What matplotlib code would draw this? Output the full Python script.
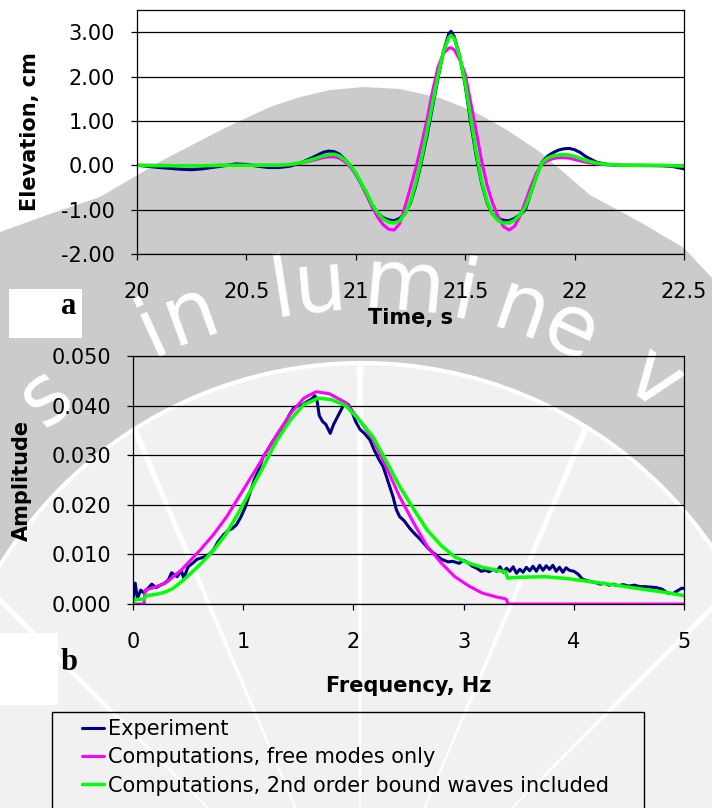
import numpy as np
import matplotlib
matplotlib.use("Agg")
import matplotlib.pyplot as plt
from matplotlib.patches import Polygon, Circle, Wedge, Rectangle
from matplotlib.ticker import FormatStrFormatter

plt.rcParams['font.family'] = ['DejaVu Sans']
plt.rcParams['axes.unicode_minus'] = False

# (a) surface elevation at the gauge, cm
time_s = [20.0, 20.1, 20.2, 20.25, 20.3, 20.4, 20.45, 20.5, 20.55, 20.6,
          20.65, 20.7, 20.75, 20.8, 20.85, 20.875, 20.9, 20.925, 20.95, 20.975,
          21.0, 21.025, 21.05, 21.075, 21.1, 21.125, 21.15, 21.175, 21.2, 21.225,
          21.25, 21.275, 21.3, 21.325, 21.35, 21.375, 21.4, 21.425, 21.435, 21.45,
          21.475, 21.5, 21.525, 21.55, 21.575, 21.6, 21.625, 21.65, 21.675, 21.7,
          21.725, 21.75, 21.775, 21.8, 21.825, 21.85, 21.875, 21.9, 21.925, 21.95,
          21.975, 22.0, 22.025, 22.05, 22.1, 22.15, 22.2, 22.3, 22.4, 22.45,
          22.5]
elev_exp = [0.00, -0.05, -0.09, -0.10, -0.08, -0.01, 0.03, 0.02, -0.02, -0.05,
            -0.05, -0.02, 0.06, 0.17, 0.29, 0.32, 0.31, 0.25, 0.13, 0.00,
            -0.20, -0.42, -0.66, -0.93, -1.08, -1.18, -1.23, -1.25, -1.20, -1.08,
            -0.85, -0.45, 0.08, 0.65, 1.30, 1.95, 2.55, 2.97, 3.02, 2.90,
            2.45, 1.80, 0.97, 0.22, -0.40, -0.85, -1.10, -1.20, -1.24, -1.25,
            -1.20, -1.12, -1.00, -0.62, -0.26, 0.06, 0.20, 0.28, 0.34, 0.37,
            0.38, 0.35, 0.29, 0.20, 0.07, 0.02, 0.00, 0.00, -0.01, -0.03,
            -0.08]
elev_free = [0.00, 0.00, -0.01, -0.01, -0.01, 0.00, 0.00, 0.00, 0.00, 0.00,
             0.00, 0.01, 0.05, 0.11, 0.17, 0.19, 0.19, 0.16, 0.08, -0.04,
             -0.20, -0.42, -0.68, -0.94, -1.17, -1.34, -1.44, -1.46, -1.32, -0.93,
             -0.50, -0.05, 0.47, 1.02, 1.65, 2.20, 2.52, 2.64, 2.65, 2.60,
             2.38, 2.06, 1.42, 0.78, 0.10, -0.45, -0.85, -1.15, -1.38, -1.46,
             -1.38, -1.15, -0.82, -0.48, -0.18, 0.02, 0.10, 0.15, 0.17, 0.17,
             0.16, 0.13, 0.10, 0.07, 0.03, 0.01, 0.00, -0.01, -0.01, -0.01,
             -0.01]
elev_bound = [0.00, -0.01, -0.01, -0.01, -0.01, 0.00, 0.00, 0.00, 0.00, 0.00,
              0.00, 0.02, 0.06, 0.13, 0.21, 0.24, 0.25, 0.21, 0.12, 0.00,
              -0.17, -0.40, -0.62, -0.88, -1.07, -1.21, -1.28, -1.30, -1.25, -1.10,
              -0.82, -0.38, 0.15, 0.75, 1.38, 2.00, 2.55, 2.88, 2.93, 2.86,
              2.45, 1.85, 1.08, 0.30, -0.35, -0.82, -1.10, -1.25, -1.30, -1.30,
              -1.24, -1.12, -0.94, -0.62, -0.26, 0.05, 0.16, 0.21, 0.23, 0.24,
              0.23, 0.20, 0.16, 0.11, 0.05, 0.02, 0.00, 0.00, 0.00, -0.01,
              -0.02]

# (b) amplitude spectra
freq_exp = [0.0, 0.02, 0.04, 0.07, 0.1, 0.13, 0.17, 0.21, 0.25, 0.28,
            0.32, 0.35, 0.38, 0.4, 0.44, 0.46, 0.5, 0.54, 0.58, 0.62,
            0.65, 0.69, 0.73, 0.77, 0.82, 0.86, 0.9, 0.94, 0.98, 1.02,
            1.06, 1.1, 1.14, 1.18, 1.22, 1.26, 1.3, 1.34, 1.38, 1.42,
            1.46, 1.5, 1.54, 1.58, 1.62, 1.65, 1.67, 1.69, 1.72, 1.75,
            1.79, 1.82, 1.85, 1.88, 1.92, 1.95, 1.98, 2.02, 2.06, 2.1,
            2.15, 2.19, 2.23, 2.27, 2.31, 2.36, 2.39, 2.42, 2.46, 2.51,
            2.55, 2.6, 2.64, 2.68, 2.72, 2.75, 2.8, 2.86, 2.9, 2.96,
            3.0, 3.04, 3.08, 3.12, 3.16, 3.2, 3.23, 3.27, 3.3, 3.33,
            3.36, 3.39, 3.42, 3.45, 3.48, 3.51, 3.54, 3.57, 3.6, 3.63,
            3.66, 3.69, 3.72, 3.75, 3.78, 3.81, 3.84, 3.87, 3.9, 3.93,
            3.96, 4.0, 4.04, 4.08, 4.12, 4.16, 4.2, 4.24, 4.28, 4.32,
            4.36, 4.4, 4.45, 4.5, 4.55, 4.6, 4.65, 4.7, 4.75, 4.8,
            4.85, 4.9, 4.95, 4.98, 5.0]
amp_exp = [0.0010, 0.0042, 0.0011, 0.0028, 0.0022, 0.0030, 0.0040, 0.0033, 0.0038, 0.0041,
           0.0048, 0.0063, 0.0058, 0.0055, 0.0067, 0.0052, 0.0075, 0.0082, 0.0090, 0.0093,
           0.0095, 0.0100, 0.0109, 0.0125, 0.0139, 0.0148, 0.0152, 0.0160, 0.0176, 0.0196,
           0.0223, 0.0250, 0.0270, 0.0296, 0.0310, 0.0325, 0.0337, 0.0350, 0.0365, 0.0382,
           0.0396, 0.0400, 0.0402, 0.0408, 0.0413, 0.0420, 0.0410, 0.0380, 0.0368, 0.0362,
           0.0344, 0.0362, 0.0375, 0.0388, 0.0405, 0.0403, 0.0392, 0.0368, 0.0352, 0.0344,
           0.0331, 0.0310, 0.0292, 0.0277, 0.0250, 0.0216, 0.0190, 0.0176, 0.0168, 0.0153,
           0.0143, 0.0132, 0.0122, 0.0112, 0.0104, 0.0099, 0.0090, 0.0085, 0.0086, 0.0082,
           0.0088, 0.0083, 0.0076, 0.0072, 0.0066, 0.0068, 0.0065, 0.0070, 0.0066, 0.0075,
           0.0064, 0.0072, 0.0066, 0.0075, 0.0062, 0.0070, 0.0064, 0.0074, 0.0067, 0.0076,
           0.0066, 0.0078, 0.0068, 0.0077, 0.0070, 0.0078, 0.0066, 0.0074, 0.0064, 0.0073,
           0.0068, 0.0066, 0.0060, 0.0050, 0.0047, 0.0045, 0.0043, 0.0040, 0.0042, 0.0038,
           0.0040, 0.0037, 0.0039, 0.0036, 0.0038, 0.0035, 0.0035, 0.0034, 0.0033, 0.0030,
           0.0022, 0.0021, 0.0028, 0.0032, 0.0031]
freq_free = [0.0, 0.1, 0.11, 0.2, 0.3, 0.44, 0.61, 0.73, 0.85, 1.0,
             1.15, 1.3, 1.43, 1.55, 1.66, 1.78, 1.93, 2.05, 2.18, 2.3,
             2.42, 2.55, 2.67, 2.8, 2.92, 3.05, 3.17, 3.3, 3.37, 3.39,
             3.4, 5.0]
amp_free = [0.0, 0.0, 0.0028, 0.0034, 0.0043, 0.0069, 0.0109, 0.0140, 0.0176, 0.0230,
            0.0284, 0.0340, 0.0384, 0.0415, 0.0428, 0.0424, 0.0406, 0.0372, 0.0331, 0.0275,
            0.0216, 0.0162, 0.0116, 0.0082, 0.0055, 0.0036, 0.0022, 0.0014, 0.0011, 0.0009,
            0.0, 0.0]
freq_bound = [0.0, 0.01, 0.1, 0.12, 0.2, 0.28, 0.36, 0.44, 0.53, 0.62,
              0.73, 0.84, 0.94, 1.05, 1.19, 1.3, 1.43, 1.55, 1.68, 1.8,
              1.93, 2.05, 2.18, 2.3, 2.42, 2.55, 2.67, 2.8, 2.92, 3.05,
              3.17, 3.3, 3.38, 3.4, 3.5, 3.74, 3.95, 4.15, 4.35, 4.56,
              4.78, 5.0]
amp_bound = [0.0, 0.0009, 0.0010, 0.0017, 0.0019, 0.0023, 0.0031, 0.0045, 0.0063, 0.0082,
             0.0108, 0.0140, 0.0177, 0.0222, 0.0280, 0.0328, 0.0372, 0.0402, 0.0415, 0.0412,
             0.0400, 0.0372, 0.0336, 0.0287, 0.0237, 0.0190, 0.0149, 0.0117, 0.0095, 0.0082,
             0.0074, 0.0068, 0.0065, 0.0052, 0.0054, 0.0055, 0.0051, 0.0045, 0.0039, 0.0032,
             0.0025, 0.0017]

time_ticks = [20, 20.5, 21, 21.5, 22, 22.5]
time_ticklabels = ['20', '20.5', '21', '21.5', '22', '22.5']
elev_ticks = [-2, -1, 0, 1, 2, 3]
freq_ticks = [0, 1, 2, 3, 4, 5]
amp_ticks = [0.0, 0.01, 0.02, 0.03, 0.04, 0.05]

series_labels = ['Experiment', 'Computations, free modes only',
                 'Computations, 2nd order bound waves included']
series_colors = ['#000080', '#ff00ff', '#00ff00']
series_widths = [2.2, 2.2, 2.5]

W, H = 712, 808
fig = plt.figure(figsize=(W / 100, H / 100), dpi=100)

# background layer in pixel units (y down)
bg = fig.add_axes([0, 0, 1, 1], zorder=0)
bg.set_xlim(0, W)
bg.set_ylim(H, 0)
bg.axis('off')

# faint logo behind the charts
dome = [(0, 232), (50, 214), (100, 197), (163, 160), (227, 127), (270, 107),
        (300, 97), (330, 90), (364, 87), (400, 89), (440, 98), (475, 112),
        (507, 130), (540, 152), (590, 195), (640, 222), (684, 248), (712, 278)]
bg.add_patch(Polygon(dome + [(712, 808), (0, 808)], closed=True,
                     fc='#cbcbcb', ec='none', zorder=0))
inner = Circle((362, 788), 425, fc='#f1f1f1', ec='white', lw=3, zorder=1)
bg.add_patch(inner)
for a in (-68, -45, -23, 0, 23, 45, 68):
    ray = Wedge((360, 960), 800, 270 + a - 0.3, 270 + a + 0.3,
                fc='white', ec='none', zorder=2)
    bg.add_patch(ray)
    ray.set_clip_path(inner)
motto = [('s', -39.0), ('i', -24.6), ('n', -19.8), ('l', -9.0),
         ('u', -4.6), ('m', 5.0), ('i', 12.1), ('n', 18.8), ('e', 24.8),
         ('v', 36.0)]
for ch, a in motto:
    th = np.radians(a)
    bg.text(360 + 476 * np.sin(th), 785 - 476 * np.cos(th), ch,
            rotation=-a, rotation_mode='anchor', ha='center', va='baseline',
            fontsize=60, color='white', zorder=3)

# panel tags
bg.add_patch(Rectangle((9, 289), 73, 49, fc='white', ec='none', zorder=4))
bg.add_patch(Rectangle((0, 633), 58, 72, fc='white', ec='none', zorder=4))
bg.text(69, 307, 'a', ha='center', va='center', fontsize=22,
        family='Liberation Serif', weight='bold', zorder=5)
bg.text(69, 663, 'b', ha='center', va='center', fontsize=22,
        family='Liberation Serif', weight='bold', zorder=5)


def style_axes(ax):
    ax.set_facecolor('none')
    ax.grid(axis='y', color='black', lw=0.9)
    ax.set_axisbelow(True)
    for sp in ax.spines.values():
        sp.set_color('black')
        sp.set_linewidth(0.9)
    ax.tick_params(direction='out', length=4.3, width=0.9, labelsize=15,
                   colors='black')
    ax.tick_params(axis='x', pad=15.5)
    ax.tick_params(axis='y', pad=11.5)


# (a) time series
ax1 = fig.add_axes([137 / W, 1 - 254 / H, 547 / W, 244 / H], zorder=1)
style_axes(ax1)
for y, c, lw in zip([elev_exp, elev_free, elev_bound], series_colors, series_widths):
    ax1.plot(time_s, y, color=c, lw=lw, solid_capstyle='round')
ax1.set_xlim(20, 22.5)
ax1.set_ylim(-2, 3.5)
ax1.set_xticks(time_ticks)
ax1.set_xticklabels(time_ticklabels)
ax1.set_yticks(elev_ticks)
ax1.yaxis.set_major_formatter(FormatStrFormatter('%.2f'))
ax1.set_xlabel('Time, s', fontsize=15, weight='bold', va='center')
ax1.xaxis.set_label_coords(0.5, -0.262)
ax1.set_ylabel('Elevation, cm', fontsize=15, weight='bold', va='center')
ax1.yaxis.set_label_coords(-0.1956, 0.5)

# (b) spectra
ax2 = fig.add_axes([133 / W, 1 - 604 / H, 551 / W, 248 / H], zorder=1)
style_axes(ax2)
lines = []
for f, y, c, lw in zip([freq_exp, freq_free, freq_bound],
                       [amp_exp, amp_free, amp_bound], series_colors, series_widths):
    ln, = ax2.plot(f, y, color=c, lw=lw, solid_capstyle='round')
    lines.append(ln)
ax2.set_xlim(0, 5)
ax2.set_ylim(0, 0.05)
ax2.set_xticks(freq_ticks)
ax2.set_yticks(amp_ticks)
ax2.yaxis.set_major_formatter(FormatStrFormatter('%.3f'))
ax2.set_xlabel('Frequency, Hz', fontsize=15, weight='bold', va='center')
ax2.xaxis.set_label_coords(0.5, -0.331)
ax2.set_ylabel('Amplitude', fontsize=15, weight='bold', va='center')
ax2.yaxis.set_label_coords(-0.2015, 0.5)

# legend box runs off the bottom edge
bg.add_patch(Rectangle((52, 712), 592, 130, fill=False, ec='black', lw=1.0, zorder=4))
fig.legend(lines, series_labels, loc='upper left',
           bbox_to_anchor=(82 / W, 1 - 719 / H), frameon=False, fontsize=15,
           handlelength=1.05, handletextpad=0.2, labelspacing=0.4,
           borderpad=0, borderaxespad=0)

fig.savefig('out.png', dpi=100)
